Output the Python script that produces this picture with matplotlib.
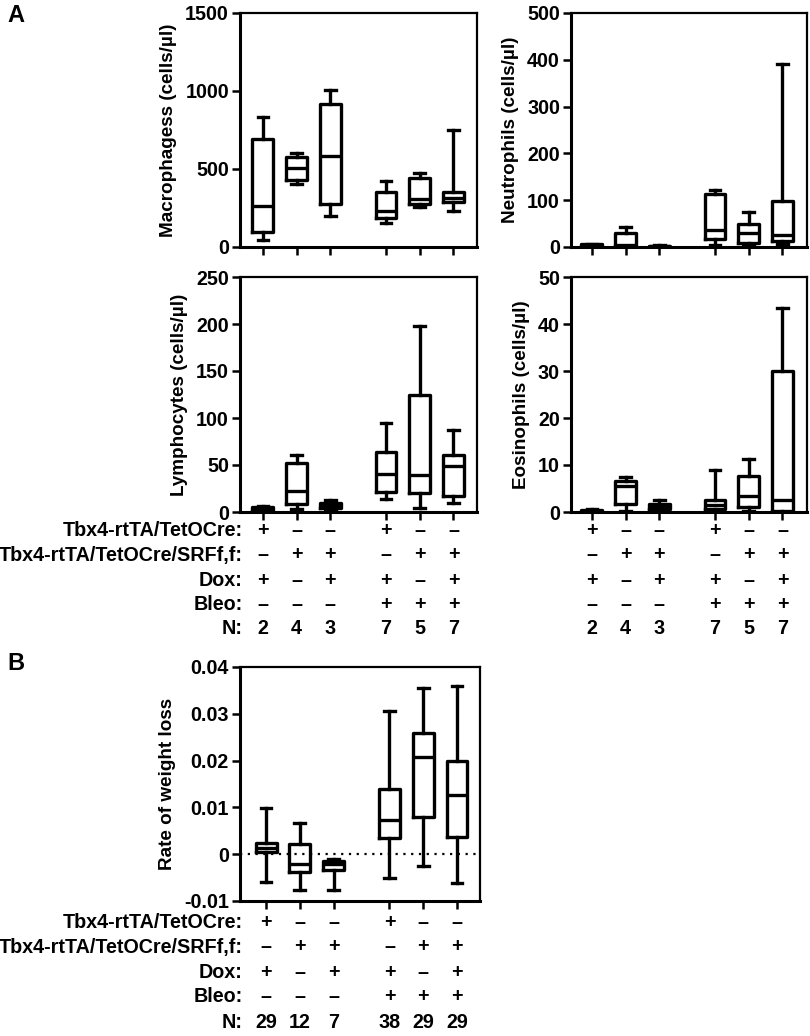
import matplotlib
matplotlib.use("Agg")
import matplotlib.pyplot as plt
from matplotlib.transforms import blended_transform_factory
from matplotlib.ticker import FixedLocator, FixedFormatter

plt.rcParams['font.family'] = ['Liberation Sans', 'DejaVu Sans']
plt.rcParams['font.weight'] = 'bold'
plt.rcParams['axes.unicode_minus'] = False

# ---------------- data ----------------
positions = [0, 1, 2, 3.65, 4.65, 5.65]

# each: [whislo, q1, med, q3, whishi]
macrophages = [[47, 96, 261, 694, 833],
               [404, 432, 506, 575, 603],
               [197, 276, 581, 917, 1004],
               [156, 188, 233, 355, 425],
               [254, 276, 308, 440, 472],
               [233, 286, 316, 355, 750]]
neutrophils = [[0.5, 1, 3, 6, 7],
               [0.5, 3, 4, 29, 42],
               [0.5, 1, 2, 3, 3.5],
               [5, 17, 37, 114, 122],
               [3, 9, 30, 50, 75],
               [7, 12, 26, 99, 391]]
lymphocytes = [[0.5, 1, 3, 5.5, 6.5],
               [3.6, 8, 22, 52, 61],
               [3, 4, 7.5, 10, 12.8],
               [14, 21, 40, 64, 95],
               [4, 20, 39, 124, 198],
               [10, 17, 49, 61, 87]]
eosinophils = [[0, 0.1, 0.3, 0.5, 0.6],
               [0.3, 1.8, 5.6, 6.5, 7.4],
               [0.4, 0.6, 1.3, 1.8, 2.5],
               [0.2, 0.6, 1.4, 2.6, 8.9],
               [0.2, 1.1, 3.4, 7.7, 11.2],
               [0.0, 0.2, 2.6, 29.9, 43.4]]
weight_loss = [[-0.0059, 0.0004, 0.0014, 0.0023, 0.0099],
               [-0.0076, -0.0039, -0.0020, 0.0021, 0.0066],
               [-0.0076, -0.0034, -0.0022, -0.0015, -0.0011],
               [-0.0051, 0.0034, 0.0074, 0.0139, 0.0307],
               [-0.0025, 0.0079, 0.0207, 0.0260, 0.0355],
               [-0.0061, 0.0037, 0.0126, 0.0199, 0.0360]]

row_labels = ["Tbx4-rtTA/TetOCre:", "Tbx4-rtTA/TetOCre/SRFf,f:", "Dox:", "Bleo:", "N:"]
row_cre = ["+", "–", "–", "+", "–", "–"]
row_srf = ["–", "+", "+", "–", "+", "+"]
row_dox = ["+", "–", "+", "+", "–", "+"]
row_bleo = ["–", "–", "–", "+", "+", "+"]
n_bal = ["2", "4", "3", "7", "5", "7"]
n_weight = ["29", "12", "7", "38", "29", "29"]

# ---------------- figure ----------------
W, H = 810, 1036
fig = plt.figure(figsize=(W / 100, H / 100), dpi=100)


def px_axes(l, t, r, b):
    return fig.add_axes([l / W, 1 - b / H, (r - l) / W, (b - t) / H])


FS = 14.2
FS_YL = 13.6
LW = 2.4


def draw_panel(ax, data, ylim, yticks, ylabel, xlim, ylabels=None):
    stats = [dict(whislo=d[0], q1=d[1], med=d[2], q3=d[3], whishi=d[4]) for d in data]
    ax.bxp(stats, positions=positions, widths=0.62, showfliers=False,
           patch_artist=False,
           boxprops=dict(color='black', linewidth=LW),
           medianprops=dict(color='black', linewidth=LW),
           whiskerprops=dict(color='black', linewidth=LW),
           capprops=dict(color='black', linewidth=LW),
           capwidths=0.32)
    ax.set_xlim(*xlim)
    ax.set_ylim(*ylim)
    ax.set_xticks(positions)
    ax.set_xticklabels([])
    ax.yaxis.set_major_locator(FixedLocator(yticks))
    if ylabels is None:
        ylabels = [str(v) for v in yticks]
    ax.yaxis.set_major_formatter(FixedFormatter(ylabels))
    for lab in ax.get_yticklabels():
        lab.set_fontsize(FS)
        lab.set_fontweight('bold')
    ax.tick_params(axis='both', direction='out', length=6, width=1.8, color='black', pad=2)
    ax.set_ylabel(ylabel, fontsize=FS_YL, fontweight='bold', labelpad=6)
    for s in ['left', 'bottom']:
        ax.spines[s].set_linewidth(2.2)
    for s in ['top', 'right']:
        ax.spines[s].set_linewidth(1.6)


ax1 = px_axes(240, 13, 477, 247)
draw_panel(ax1, macrophages, (0, 1500), [0, 500, 1000, 1500],
           "Macrophagess (cells/µl)", (-0.68, 6.35))
ax2 = px_axes(571, 13, 807, 247)
draw_panel(ax2, neutrophils, (0, 500), [0, 100, 200, 300, 400, 500],
           "Neutrophils (cells/µl)", (-0.62, 6.38))
ax3 = px_axes(240, 277, 477, 512)
draw_panel(ax3, lymphocytes, (0, 250), [0, 50, 100, 150, 200, 250],
           "Lymphocytes (cells/µl)", (-0.68, 6.35))
ax4 = px_axes(571, 277, 807, 512)
draw_panel(ax4, eosinophils, (0, 50), [0, 10, 20, 30, 40, 50],
           "Eosinophils (cells/µl)", (-0.62, 6.38))
ax5 = px_axes(240, 667, 480, 901)
ax5.axhline(0, color='black', linestyle=(0, (1, 2.5)), linewidth=1.6, zorder=0)
draw_panel(ax5, weight_loss, (-0.01, 0.04), [-0.01, 0, 0.01, 0.02, 0.03, 0.04],
           "Rate of weight loss", (-0.77, 6.33),
           ylabels=["-0.01", "0", "0.01", "0.02", "0.03", "0.04"])


def draw_table(ax, rows_y, n_row, with_labels):
    tr = blended_transform_factory(ax.transData, fig.transFigure)
    rows = [row_cre, row_srf, row_dox, row_bleo, n_row]
    for i, (y, row) in enumerate(zip(rows_y, rows)):
        yf = 1 - y / H
        if with_labels:
            fig.text(243 / W, yf, row_labels[i], ha='right', va='center',
                     fontsize=FS, fontweight='bold')
        for x, s in zip(positions, row):
            ax.text(x, yf, s, transform=tr, ha='center', va='center',
                    fontsize=FS, fontweight='bold')


rows_A = [531, 555, 580, 604, 629]
rows_B = [922, 947, 972, 996, 1022]
draw_table(ax1, rows_A, n_bal, True)
draw_table(ax2, rows_A, n_bal, False)
draw_table(ax5, rows_B, n_weight, True)

fig.text(7 / W, 1 - 16 / H, "A", fontsize=17, fontweight='bold', va='center', ha='left')
fig.text(7 / W, 1 - 664 / H, "B", fontsize=17, fontweight='bold', va='center', ha='left')

fig.savefig("out.png", dpi=100)
